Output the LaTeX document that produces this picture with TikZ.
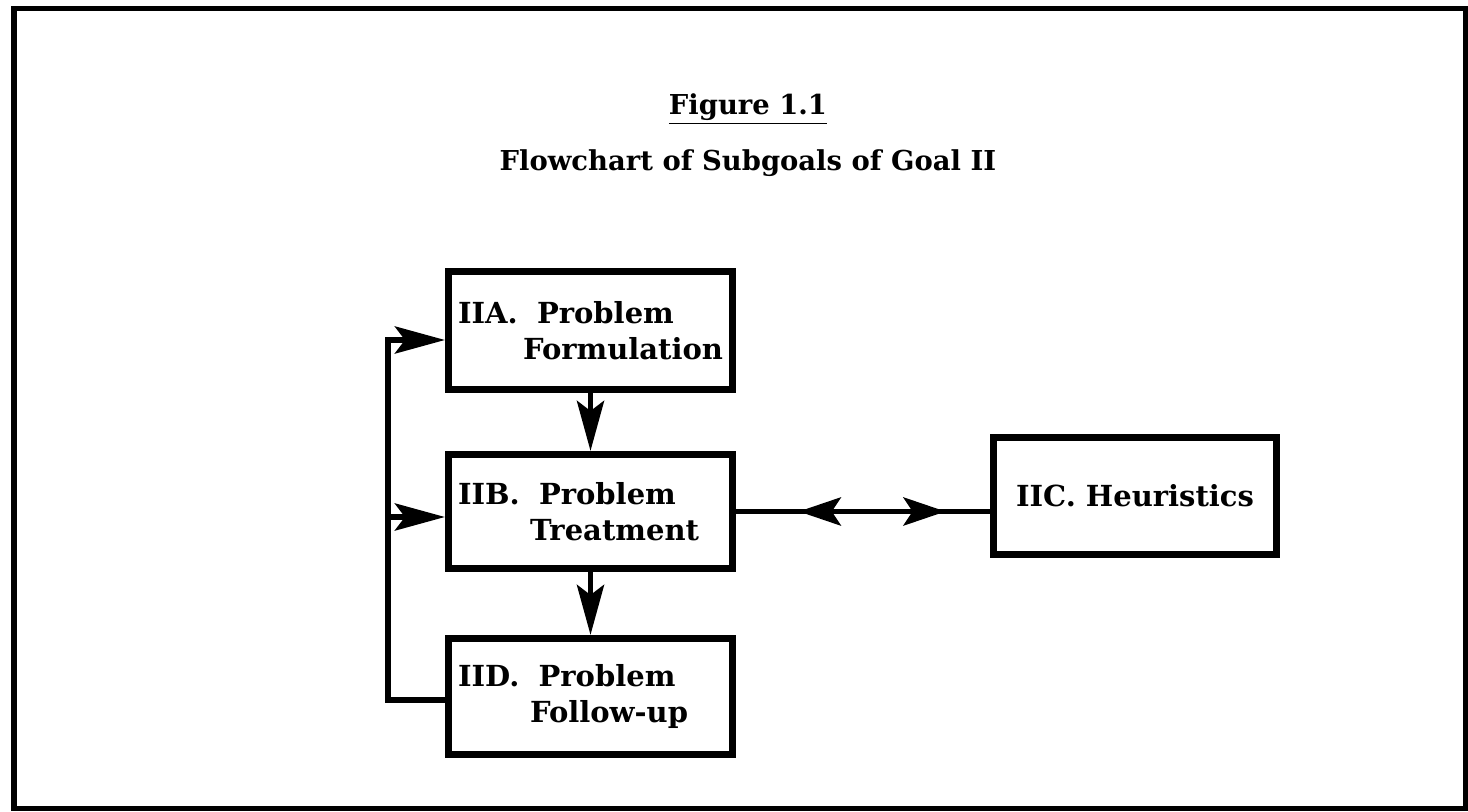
\documentclass[tikz,border=0pt]{standalone}
\usepackage{fontspec}
\setmainfont{DejaVu Serif}
\usetikzlibrary{arrows.meta, positioning, calc, decorations.markings}
\tikzset{
  lineK/.style={line width=3.4pt},
  arrowK/.style={-{Stealth[length=1cm, width=0.54cm, inset=0.2cm]}, line width=3.4pt},
  boxGoal/.style={rectangle, draw, line width=4pt, minimum width=5.68cm,
                  text width=5.3cm, inner xsep=0.19cm, align=left,
                  font=\bfseries\fontsize{16.5}{20.5}\selectfont},
  boxSide/.style={rectangle, draw, line width=4pt, minimum width=5.66cm,
                  minimum height=2.34cm, align=center,
                  font=\bfseries\fontsize{16.5}{20.5}\selectfont},
  headText/.style={font=\bfseries\fontsize{15.6}{18}\selectfont},
}

\begin{document}
\begin{tikzpicture}
    \useasboundingbox (0,0) rectangle (29.36,16.22);
    \draw[line width=0.1cm] (0.28,0.06) rectangle (29.30,16.04);
    \node[headText] (figTitle) at (14.96,14.04) {\underline{Figure 1.1}};
    \node[headText] (chartTitle) at (14.96,12.96) {Flowchart of Subgoals of Goal II};
    \node[boxGoal, minimum height=2.36cm] (IIA) at (11.81,9.61)
      {IIA.~~Problem\\\hspace*{1.3cm}\mbox{Formulation}};
    \node[boxGoal, minimum height=2.28cm] (IIB) at (11.81,5.99)
      {IIB.~~Problem\\\hspace*{1.44cm}\mbox{Treatment}};
    \node[boxGoal, minimum height=2.32cm] (IID) at (11.81,2.29)
      {IID.~~Problem\\\hspace*{1.44cm}\mbox{Follow-up}};
    \node[boxSide] (IIC) at (22.70,6.30) {IIC. Heuristics};
    % feedback loop on the left
    \coordinate (loopL) at (7.76,0);
    \coordinate (inA) at ([yshift=-0.19cm]IIA.west);
    \coordinate (inB) at ([yshift=-0.11cm]IIB.west);
    \coordinate (outD) at ([yshift=-0.07cm]IID.west);
    \draw[arrowK] (IIA.south) -- (IIB.north);
    \draw[arrowK] (IIB.south) -- (IID.north);
    \draw[arrowK] (outD) -| (loopL |- inA) -- (inA);
    \draw[arrowK] (loopL |- inB) -- (inB);
    \draw[lineK, postaction=decorate, decoration={markings,
        mark=at position 0.247 with {\arrowreversed{Stealth[length=0.84cm, width=0.56cm, inset=0.18cm]}},
        mark=at position 0.825 with {\arrow{Stealth[length=0.84cm, width=0.56cm, inset=0.18cm]}}}]
      (IIB.east) -- (IIB.east -| IIC.west);
  \end{tikzpicture}
\end{document}
